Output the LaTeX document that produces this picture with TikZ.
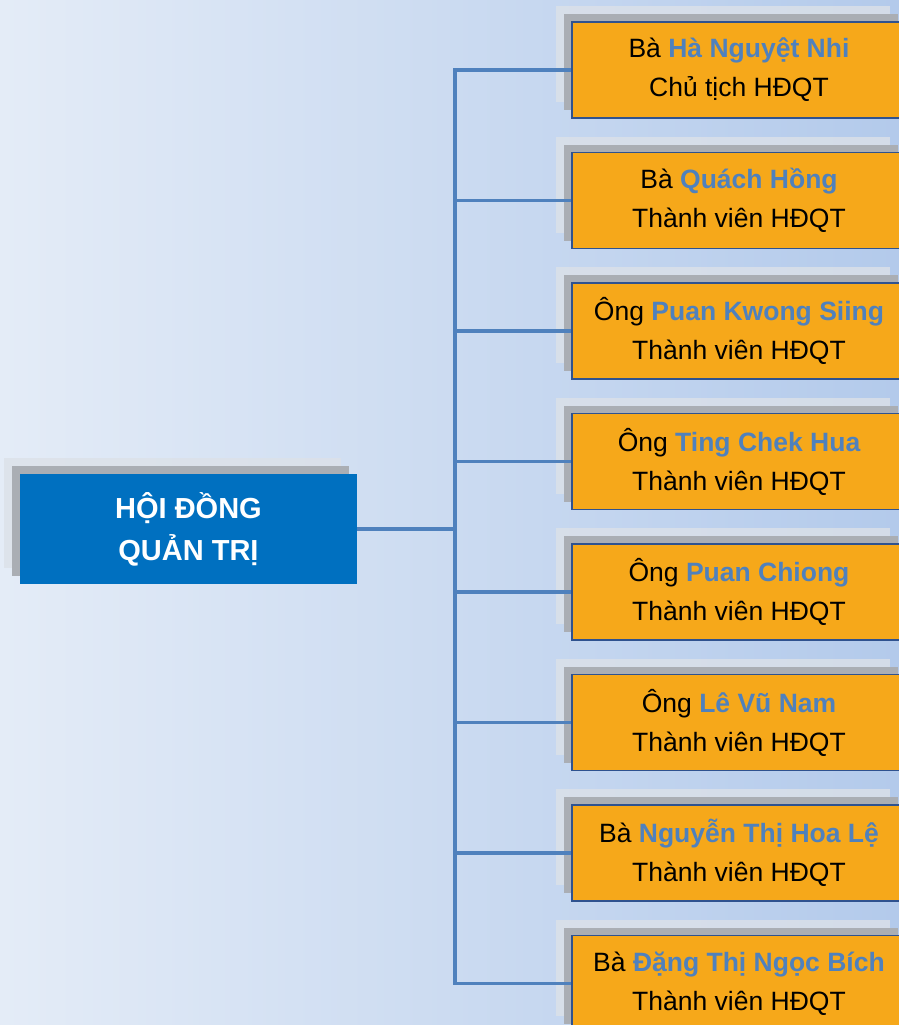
\documentclass[tikz,border=0pt]{standalone}
\usepackage{fontspec}
\setmainfont{Liberation Sans}
\usetikzlibrary{positioning, shadows}
\definecolor{bgleft}{HTML}{E4ECF7}
\definecolor{bgright}{HTML}{B3CAEB}
\definecolor{hdqtfill}{HTML}{0070C0}
\definecolor{tvfill}{HTML}{F6A81A}
\definecolor{tvline}{HTML}{2F528F}
\definecolor{namecol}{HTML}{4F81BD}
\definecolor{linkcol}{HTML}{4F81BD}
\definecolor{shadowgray}{HTML}{AAAEB4}
\definecolor{halogray}{HTML}{DCE1E8}
\newcommand{\tvname}[1]{\textbf{\color{namecol}#1}}
\tikzset{
  boxshadows/.style = {copy shadow={shadow xshift=-16pt, shadow yshift=16pt,
                         fill=halogray, draw=none, opacity=0.8},
                       copy shadow={shadow xshift=-8pt, shadow yshift=8pt,
                         fill=shadowgray, draw=none}},
  hdqtbox/.style = {boxshadows, fill=hdqtfill, text=white, align=center,
                    font=\fontsize{29}{42}\selectfont\bfseries,
                    minimum width=337pt, minimum height=110pt, inner sep=0pt},
  tvbox/.style   = {boxshadows, fill=tvfill, draw=tvline, line width=1.5pt,
                    align=center, font=\fontsize{26.5}{39}\selectfont,
                    minimum width=334pt, minimum height=96pt, inner sep=0pt},
  link/.style    = {draw=linkcol, line width=3.8pt},
}
\begin{document}
\begin{tikzpicture}[x=1pt, y=-1pt, node distance=33pt]
  \useasboundingbox (0,0) rectangle (899,1025);
  \shade[left color=bgleft, right color=bgright] (0,0) rectangle (899,1025);
  \clip (0,0) rectangle (899,1025);

  \node[hdqtbox] (hdqt) at (188.5,529) {HỘI ĐỒNG\\QUẢN TRỊ};

  \node[tvbox] (nhi) at (739,70) {Bà \tvname{Hà Nguyệt Nhi}\\Chủ tịch HĐQT};
  \node[tvbox, below=of nhi]    (hong)  {Bà \tvname{Quách Hồng}\\Thành viên HĐQT};
  \node[tvbox, below=of hong]   (siing) {Ông \tvname{Puan Kwong Siing}\\Thành viên HĐQT};
  \node[tvbox, below=of siing]  (hua)   {Ông \tvname{Ting Chek Hua}\\Thành viên HĐQT};
  \node[tvbox, below=of hua]    (chiong){Ông \tvname{Puan Chiong}\\Thành viên HĐQT};
  \node[tvbox, below=of chiong] (nam)   {Ông \tvname{Lê Vũ Nam}\\Thành viên HĐQT};
  \node[tvbox, below=of nam]    (le)    {Bà \tvname{Nguyễn Thị Hoa Lệ}\\Thành viên HĐQT};
  \node[tvbox, below=of le]     (bich)  {Bà \tvname{Đặng Thị Ngọc Bích}\\Thành viên HĐQT};

  % trunk
  \coordinate (trunk) at (455,529);
  \draw[link] (hdqt.east) -- (trunk);
  \draw[link, line cap=rect] (nhi.west -| trunk) -- (bich.west -| trunk);
  \draw[link] (nhi.west -| trunk) -- (nhi.west);
  \draw[link] (hong.west -| trunk) -- (hong.west);
  \draw[link] (siing.west -| trunk) -- (siing.west);
  \draw[link] (hua.west -| trunk) -- (hua.west);
  \draw[link] (chiong.west -| trunk) -- (chiong.west);
  \draw[link] (nam.west -| trunk) -- (nam.west);
  \draw[link] (le.west -| trunk) -- (le.west);
  \draw[link] (bich.west -| trunk) -- (bich.west);
\end{tikzpicture}
\end{document}
